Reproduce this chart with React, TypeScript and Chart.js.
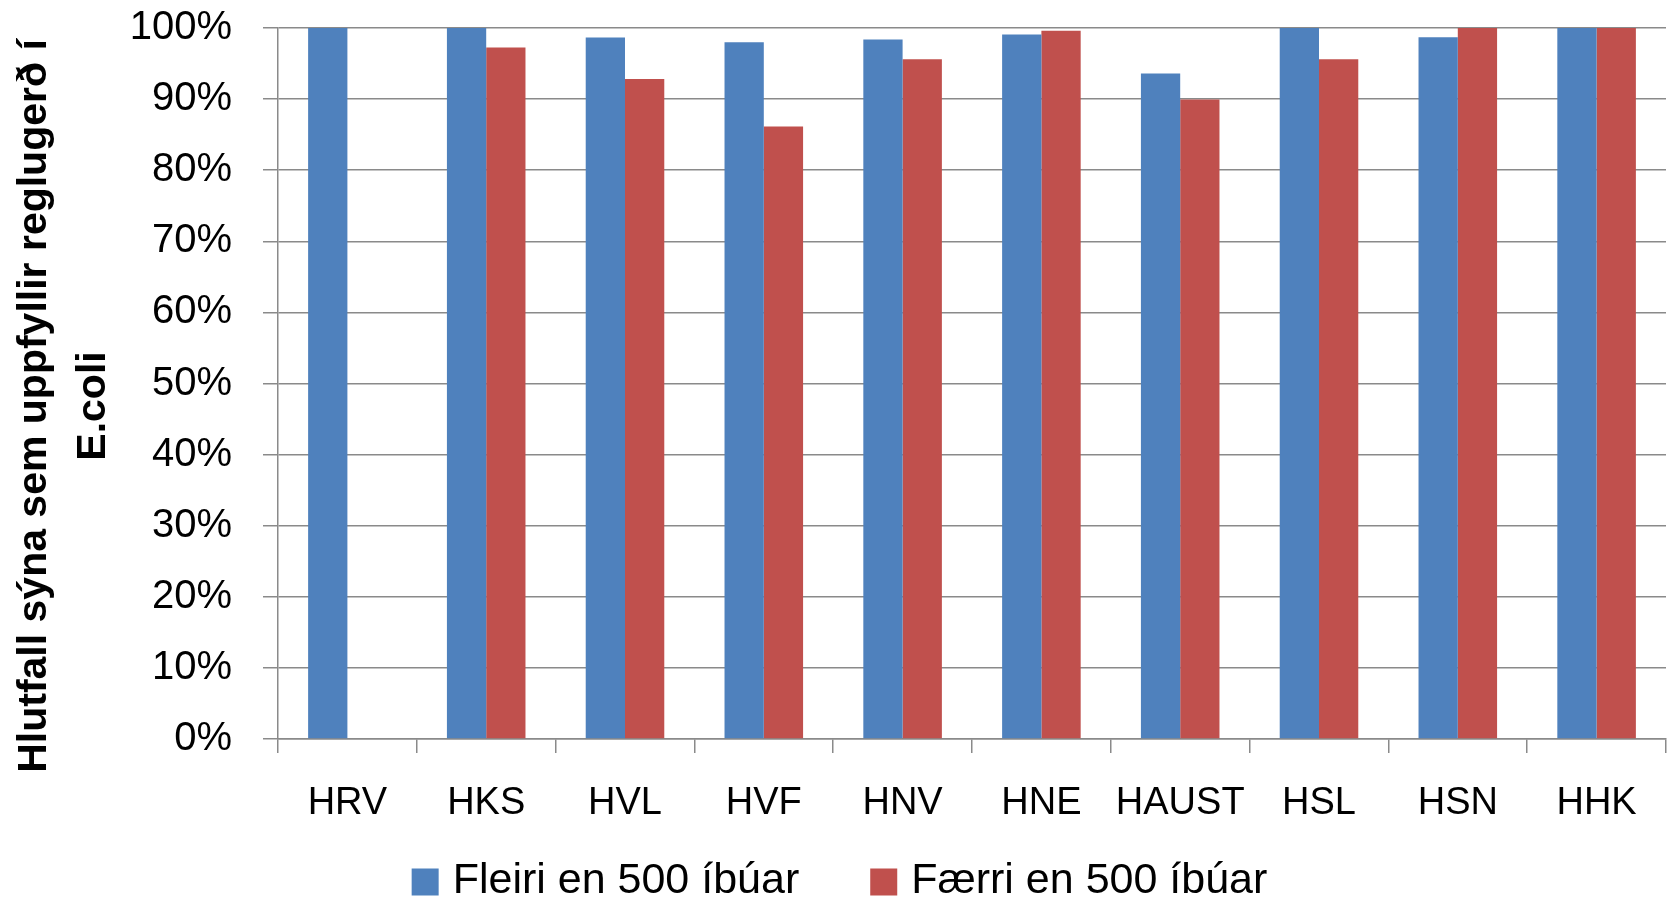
import React, { useEffect, useRef } from "react";
import { Chart, registerables } from "chart.js";

Chart.register(...registerables);

const categories = ["HRV", "HKS", "HVL", "HVF", "HNV", "HNE", "HAUST", "HSL", "HSN", "HHK"];
const fleiriValues = [100, 100, 98.65, 98.0, 98.4, 99.07, 93.6, 100, 98.7, 100];
const faerriValues = [null, 97.24, 92.83, 86.13, 95.6, 99.63, 89.93, 95.6, 100, 100];
const seriesNames = ["Fleiri en 500 íbúar", "Færri en 500 íbúar"];
const seriesColors = ["#4F81BD", "#C0504D"];
const yTitleLines = ["Hlutfall sýna sem uppfyllir reglugerð í", "E.coli"];

const FONT = '"Liberation Sans", Arial, sans-serif';
const GRID = "#8a8a8a";

const yTitlePlugin = {
  id: "yTitleCustom",
  afterDraw(chart: any) {
    const ctx = chart.ctx;
    ctx.save();
    ctx.font = `bold 41px ${FONT}`;
    ctx.fillStyle = "#000";
    ctx.textAlign = "center";
    ctx.textBaseline = "middle";
    const cy = 406;
    yTitleLines.forEach((line, i) => {
      ctx.save();
      ctx.translate(34.5 + i * 59, cy);
      ctx.rotate(-Math.PI / 2);
      ctx.fillText(line, 0, 0);
      ctx.restore();
    });
    ctx.restore();
  },
};

// Legend drawn from the chart's own datasets (labels + colours)
const legendPlugin = {
  id: "legendCustom",
  afterDraw(chart: any) {
    const ctx = chart.ctx;
    ctx.save();
    ctx.font = `43px ${FONT}`;
    ctx.textBaseline = "middle";
    ctx.textAlign = "left";
    const box = 27;
    const gapText = 14;
    const gapItems = 71;
    const items = chart.data.datasets.map((d: any) => ({
      text: d.label,
      color: d.backgroundColor,
      w: box + gapText + ctx.measureText(d.label).width,
    }));
    const total = items.reduce((s: number, it: any) => s + it.w, 0) + gapItems * (items.length - 1);
    let x = (chart.width - total) / 2 + 2;
    const cy = 882;
    items.forEach((it: any) => {
      ctx.fillStyle = it.color;
      ctx.fillRect(x, cy - box / 2, box, box);
      ctx.fillStyle = "#000";
      ctx.fillText(it.text, x + box + gapText, cy - 1);
      x += it.w + gapItems;
    });
    ctx.restore();
  },
};

export default function App() {
  const canvasRef = useRef<HTMLCanvasElement | null>(null);

  useEffect(() => {
    document.body.style.margin = "0";
    const canvas = canvasRef.current;
    if (!canvas) return;
    const chart = new Chart(canvas, {
      type: "bar",
      data: {
        labels: categories,
        datasets: [
          {
            label: seriesNames[0],
            data: fleiriValues,
            backgroundColor: seriesColors[0],
            borderWidth: 0,
            barPercentage: 1,
            categoryPercentage: 0.566,
          },
          {
            label: seriesNames[1],
            data: faerriValues as any,
            backgroundColor: seriesColors[1],
            borderWidth: 0,
            barPercentage: 1,
            categoryPercentage: 0.566,
          },
        ],
      },
      options: {
        responsive: false,
        animation: false,
        devicePixelRatio: 1,
        layout: { padding: { top: 28, right: 9, bottom: 71, left: 9 } },
        plugins: {
          legend: { display: false },
          tooltip: { enabled: false },
        },
        scales: {
          x: {
            grid: {
              drawOnChartArea: false,
              drawTicks: true,
              tickLength: 14,
              color: GRID,
              lineWidth: 1.5,
              offset: true,
            },
            border: { color: GRID, width: 1.5 },
            ticks: {
              font: { family: FONT, size: 38, lineHeight: 1.2 },
              color: "#000",
              padding: 28,
              maxRotation: 0,
              autoSkip: false,
            },
            afterFit: (s: any) => {
              s.height = 90;
            },
          },
          y: {
            min: 0,
            max: 100,
            ticks: {
              stepSize: 10,
              callback: (v: any) => v + "%",
              font: { family: FONT, size: 40 },
              color: "#000",
              padding: 31,
            },
            grid: { color: GRID, lineWidth: 1.5, tickLength: 15 },
            border: { color: GRID, width: 1.5 },
            afterFit: (s: any) => {
              s.width = 269;
              s.paddingTop = 20;
              s.paddingBottom = 20;
            },
          },
        },
      },
      plugins: [yTitlePlugin, legendPlugin],
    });
    return () => chart.destroy();
  }, []);

  return (
    <div style={{ width: 1675, height: 900 }}>
      <canvas ref={canvasRef} width={1675} height={900} style={{ display: "block" }} />
    </div>
  );
}
